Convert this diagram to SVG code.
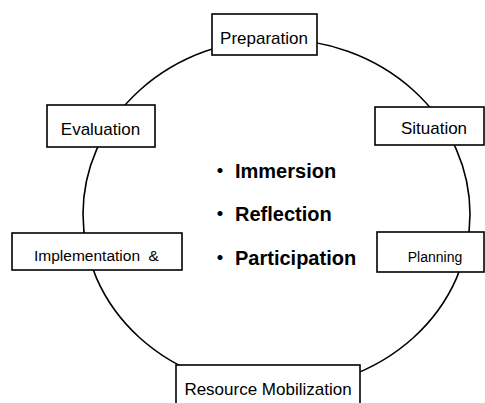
<svg xmlns="http://www.w3.org/2000/svg" width="485" height="403" viewBox="0 0 485 403">
<style>
.box{fill:#fff;stroke:#000;stroke-width:1.6}
.lbl{font-family:"Liberation Sans",Arial,sans-serif;font-size:17px;fill:#000;text-anchor:middle}
.big{font-family:"Liberation Sans","Noto Sans CJK JP",Arial,sans-serif;font-size:20px;font-weight:bold;fill:#000}
.conn{fill:none;stroke:#000;stroke-width:1.6}
</style>
<rect width="485" height="403" fill="#fff"/>
<g id="connectors">
<ellipse class="conn" cx="276.5" cy="214" rx="193.5" ry="175"/>
</g>
<g id="preparation">
<rect class="box" x="212" y="14" width="105" height="41"/>
<text class="lbl" x="264" y="44">Preparation</text>
</g>
<g id="evaluation">
<rect class="box" x="47" y="105" width="108" height="42"/>
<text class="lbl" x="100.5" y="135">Evaluation</text>
</g>
<g id="situation">
<rect class="box" x="375" y="107" width="109" height="38"/>
<text class="lbl" x="434" y="134">Situation</text>
</g>
<g id="implementation">
<rect class="box" x="12" y="233" width="170" height="37"/>
<text class="lbl" x="96.5" y="261" style="font-size:15.5px" xml:space="preserve">Implementation  &amp;</text>
</g>
<g id="planning">
<rect class="box" x="377" y="232" width="107" height="40"/>
<text class="lbl" x="435" y="262" style="font-size:14px">Planning</text>
</g>
<g id="resource">
<rect class="box" x="176" y="365" width="184" height="45"/>
<text class="lbl" x="268" y="395">Resource Mobilization</text>
</g>
<g id="center-text">
<text class="big" x="210" y="178">・<tspan x="235">Immersion</tspan></text>
<text class="big" x="210" y="221">・<tspan x="235">Reflection</tspan></text>
<text class="big" x="210" y="265">・<tspan x="235">Participation</tspan></text>
</g>
</svg>
